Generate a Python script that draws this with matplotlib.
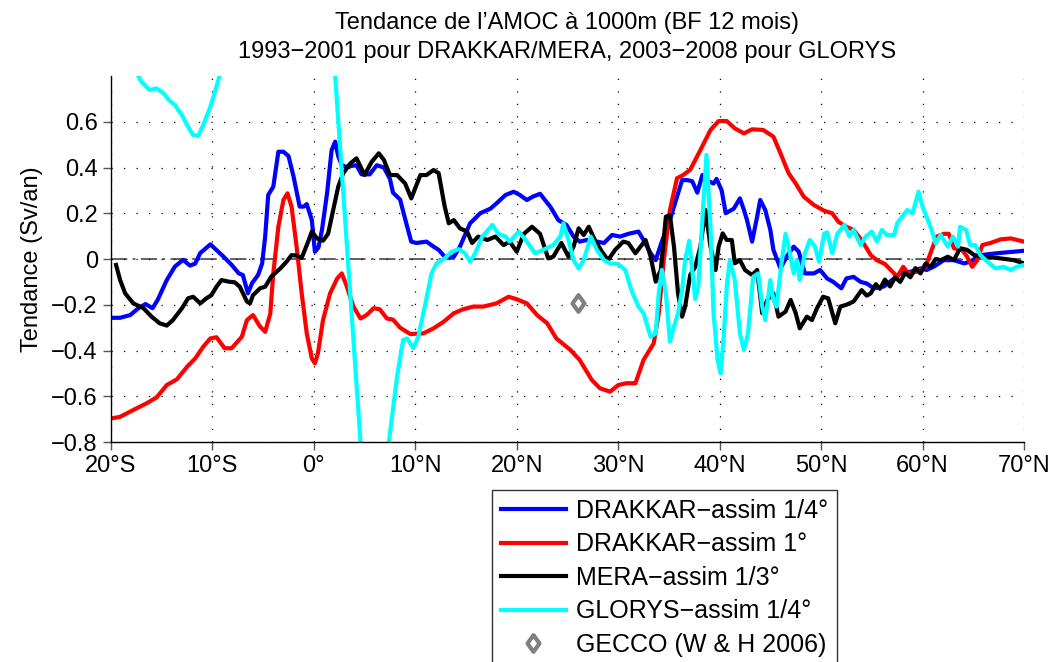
import numpy as np
import matplotlib
matplotlib.use("Agg")
import matplotlib.pyplot as plt
from matplotlib.path import Path

# ---------------------------------------------------------
# 1. Data (latitude in deg, trend in Sv/yr)
# ---------------------------------------------------------
lat_drakkar025 = [-20, -19.1, -18.1, -17.3, -16.6, -15.9, -15.4, -14.5, -13.7, -12.9, -12.2, -11.7,
                  -11.2, -10.2, -9.6, -8.9, -8.1, -7.4, -7.0, -6.5, -6.1, -5.5, -5.1, -4.8, -4.5,
                  -4.0, -3.5, -3.0, -2.5, -2.0, -1.4, -1.0, -0.7, -0.2, 0.1, 0.45, 0.8, 1.3, 1.75,
                  2.1, 2.4, 2.75, 3.2, 4.2, 4.7, 5.5, 6.2, 6.9, 7.5, 7.8, 8.5, 9.2, 9.6, 10.1, 11.1,
                  11.8, 12.3, 12.9, 13.8, 14.4, 15.4, 16.4, 17.4, 18.0, 18.9, 19.7, 20.3, 21.0, 21.6,
                  22.3, 23.3, 24.1, 24.9, 25.6, 26.2, 26.9, 27.9, 28.6, 29.4, 30.2, 31.0, 32.0, 32.5,
                  33.2, 33.7, 34.3, 35.0, 35.5, 35.9, 36.3, 36.8, 37.3, 37.8, 38.3, 38.7, 39.4, 39.7,
                  40.2, 40.6, 41.4, 42.0, 42.4, 42.7, 43.2, 43.7, 44.0, 44.5, 45.0, 45.3, 46.0, 46.6,
                  47.3, 47.8, 48.4, 49.3, 49.9, 50.6, 51.2, 52.0, 52.5, 53.2, 53.9, 54.5, 55.2, 56.2,
                  57.2, 57.8, 58.8, 59.8, 60.4, 61.1, 62.1, 63.1, 64.1, 64.7, 65.7, 67.3, 69.0, 70]
tend_drakkar025 = [-0.257, -0.257, -0.245, -0.215, -0.197, -0.215, -0.179, -0.092, -0.033, -0.004,
                   -0.029, -0.02, 0.026, 0.064, 0.039, 0.01, -0.026, -0.063, -0.07, -0.15, -0.106,
                   -0.07, -0.02, 0.098, 0.28, 0.316, 0.469, 0.469, 0.45, 0.36, 0.229, 0.229, 0.24,
                   0.17, 0.032, 0.05, 0.127, 0.287, 0.476, 0.513, 0.45, 0.41, 0.403, 0.41, 0.37, 0.37,
                   0.41, 0.40, 0.35, 0.29, 0.26, 0.141, 0.076, 0.07, 0.076, 0.054, 0.04, 0.01, 0.01,
                   0.054, 0.156, 0.2, 0.22, 0.243, 0.28, 0.294, 0.28, 0.258, 0.273, 0.285, 0.229, 0.17,
                   0.149, 0.098, 0.076, 0.083, 0.076, 0.07, 0.105, 0.098, 0.11, 0.12, 0.083, 0.025,
                   -0.005, 0.076, 0.156, 0.229, 0.287, 0.345, 0.345, 0.34, 0.29, 0.367, 0.345, 0.33,
                   0.35, 0.30, 0.2, 0.22, 0.265, 0.214, 0.17, 0.076, 0.185, 0.258, 0.214, 0.127, 0.04,
                   -0.041, 0.01, 0.054, 0.032, -0.063, -0.063, -0.048, -0.085, -0.1, -0.128, -0.085,
                   -0.078, -0.1, -0.107, -0.128, -0.12, -0.085, -0.063, -0.056, -0.041, -0.048, -0.034,
                   -0.005, -0.005, -0.019, -0.012, 0.017, 0.025, 0.032, 0.036]

lat_drakkar1 = [-20, -19.1, -17.8, -16.5, -15.5, -14.5, -13.5, -12.5, -11.7, -10.9, -10.2, -9.6, -8.8,
                -8.1, -7.1, -6.6, -6.0, -5.3, -4.8, -4.3, -4.0, -3.5, -3.0, -2.6, -2.2, -1.7, -1.2,
                -0.7, -0.2, 0.1, 0.4, 0.9, 1.6, 2.3, 2.75, 3.2, 3.9, 4.6, 5.2, 5.9, 6.5, 7.2, 7.8, 8.5,
                9.5, 10.8, 11.8, 12.8, 13.8, 14.7, 15.7, 16.7, 18.0, 19.2, 20.0, 21.0, 22.0, 23.0,
                23.9, 25.3, 26.2, 27.4, 28.2, 29.2, 30.0, 30.8, 31.7, 32.5, 33.5, 34.0, 34.5, 35.1,
                35.8, 36.4, 37.1, 38.1, 39.1, 39.9, 40.7, 41.5, 42.4, 43.2, 44.3, 45.3, 46.0, 46.8,
                47.5, 48.3, 49.3, 50.3, 51.1, 51.7, 52.5, 53.2, 54.0, 54.9, 55.5, 56.3, 57.2, 57.5,
                58.1, 58.6, 59.4, 60.3, 60.9, 61.4, 62.1, 62.6, 63.1, 63.9, 64.4, 64.9, 65.4, 65.9,
                66.7, 67.7, 68.7, 70]
tend_drakkar1 = [-0.697, -0.69, -0.66, -0.631, -0.605, -0.551, -0.526, -0.471, -0.435, -0.383, -0.347,
                 -0.342, -0.39, -0.39, -0.34, -0.267, -0.245, -0.296, -0.318, -0.24, -0.063, 0.141,
                 0.258, 0.287, 0.229, 0.054, -0.15, -0.325, -0.435, -0.456, -0.413, -0.267, -0.15,
                 -0.085, -0.063, -0.114, -0.208, -0.26, -0.245, -0.215, -0.22, -0.26, -0.265, -0.30,
                 -0.328, -0.325, -0.303, -0.274, -0.237, -0.22, -0.208, -0.208, -0.194, -0.165,
                 -0.176, -0.194, -0.245, -0.281, -0.347, -0.398, -0.441, -0.529, -0.565, -0.58,
                 -0.551, -0.543, -0.543, -0.441, -0.369, -0.237, -0.004, 0.214, 0.353, 0.367, 0.39,
                 0.476, 0.564, 0.603, 0.603, 0.571, 0.549, 0.567, 0.564, 0.535, 0.462, 0.375, 0.33,
                 0.272, 0.236, 0.211, 0.2, 0.163, 0.141, 0.127, 0.083, 0.017, -0.005, -0.022, -0.063,
                 -0.078, -0.034, -0.063, -0.056, -0.034, 0.039, 0.098, 0.11, 0.11, 0.047, 0.04, 0.01,
                 -0.034, -0.005, 0.061, 0.07, 0.086, 0.09, 0.076]

lat_mera = [-19.5, -19.1, -18.6, -17.8, -16.8, -16.0, -15.2, -14.5, -13.9, -13.0, -12.4, -11.9, -11.2,
            -10.6, -10.1, -9.6, -9.1, -8.4, -7.8, -7.3, -6.6, -6.3, -6.0, -5.3, -4.8, -4.2, -3.3,
            -2.7, -2.2, -1.7, -1.2, -0.5, -0.2, 0.3, 0.9, 1.4, 1.9, 2.4, 2.9, 3.6, 4.2, 5.0, 5.7, 6.4,
            6.9, 7.5, 8.2, 9.0, 9.6, 10.5, 11.1, 11.8, 12.3, 12.9, 13.3, 13.8, 14.4, 15.1, 15.6, 16.2,
            17.1, 17.9, 18.7, 19.3, 20.0, 20.7, 21.5, 22.3, 23.1, 23.6, 24.4, 25.1, 25.6, 26.1, 26.6,
            27.1, 27.7, 28.4, 29.0, 29.7, 30.5, 31.0, 31.7, 32.2, 32.7, 33.2, 33.7, 34.2, 34.7, 35.1,
            35.5, 35.9, 36.3, 36.6, 37.1, 37.6, 38.1, 38.6, 39.1, 39.6, 39.9, 40.3, 40.7, 41.2, 41.5,
            42.0, 42.5, 43.2, 43.7, 44.2, 44.7, 45.3, 45.8, 46.5, 47.0, 47.5, 47.9, 48.6, 49.1, 49.6,
            50.2, 50.7, 51.4, 51.9, 52.5, 53.2, 54.0, 54.5, 54.9, 55.4, 55.8, 56.3, 56.8, 57.3, 57.8,
            58.3, 58.8, 59.3, 59.8, 60.3, 60.8, 61.3, 61.8, 62.5, 63.1, 63.7, 64.4, 65.1, 66.1, 67.3,
            69.0, 70]
tend_mera = [-0.026, -0.092, -0.15, -0.194, -0.215, -0.252, -0.281, -0.291, -0.267, -0.215, -0.172,
             -0.165, -0.194, -0.172, -0.158, -0.121, -0.092, -0.099, -0.102, -0.121, -0.186, -0.194,
             -0.158, -0.128, -0.121, -0.077, -0.041, -0.012, 0.017, 0.015, 0.005, 0.083, 0.12, 0.09,
             0.08, 0.11, 0.214, 0.316, 0.375, 0.418, 0.44, 0.367, 0.425, 0.462, 0.433, 0.367, 0.367,
             0.33, 0.265, 0.367, 0.367, 0.389, 0.375, 0.229, 0.156, 0.17, 0.134, 0.12, 0.07, 0.098,
             0.083, 0.098, 0.061, 0.076, 0.032, 0.11, 0.141, 0.11, 0.003, 0.01, 0.07, 0.01, 0.054,
             0.134, 0.105, 0.141, 0.083, 0.032, -0.005, 0.04, 0.076, 0.07, 0.025, 0.054, 0.083, 0.01,
             -0.099, -0.048, 0.185, 0.192, 0.054, -0.15, -0.252, -0.208, -0.07, -0.034, 0.054, 0.214,
             0.054, -0.048, 0.054, 0.112, 0.083, 0.083, -0.019, -0.005, -0.048, -0.07, -0.048,
             -0.237, -0.179, -0.15, -0.252, -0.23, -0.179, -0.237, -0.303, -0.252, -0.267, -0.215,
             -0.165, -0.172, -0.281, -0.208, -0.2, -0.186, -0.136, -0.16, -0.15, -0.11, -0.13, -0.09,
             -0.12, -0.08, -0.1, -0.06, -0.08, -0.04, -0.063, -0.02, -0.034, 0.0, -0.005, 0.01,
             -0.005, 0.047, 0.04, 0.017, 0.01, 0.005, -0.005, -0.019]

lat_glorys = [-20, -18.5, -17.3, -17.0, -16.2, -15.5, -14.8, -14.3, -13.7, -13.0, -12.4, -11.9, -11.4,
              -10.9, -10.2, -9.7, -9.3, -8.0, -5.0, -2.0, 0.5, 1.5, 2.1, 4.6, 5.5, 6.5, 7.4, 8.2, 8.8,
              9.2, 9.8, 10.3, 11.0, 11.6, 12.1, 12.9, 13.6, 14.3, 14.9, 15.4, 15.9, 16.6, 17.6, 18.2,
              18.9, 19.3, 20.2, 21.0, 21.8, 22.6, 23.6, 24.3, 24.6, 25.1, 25.6, 26.1, 26.6, 27.3, 27.9,
              28.6, 29.2, 30.0, 30.7, 31.3, 32.0, 32.5, 33.2, 33.7, 34.0, 34.3, 34.7, 35.1, 35.5, 35.9,
              36.3, 36.6, 37.0, 37.3, 37.6, 37.9, 38.2, 38.7, 39.1, 39.4, 39.8, 40.1, 40.4, 40.7, 41.0,
              41.5, 42.0, 42.4, 42.8, 43.3, 43.8, 44.2, 44.5, 45.0, 45.3, 45.6, 46.1, 46.5, 46.8, 47.3,
              47.6, 47.9, 48.4, 48.9, 49.4, 49.8, 50.3, 50.6, 51.1, 51.6, 52.3, 52.8, 53.2, 53.9, 54.4,
              55.0, 55.5, 56.0, 56.5, 57.2, 57.5, 58.0, 58.5, 59.0, 59.3, 59.6, 60.0, 60.4, 60.9, 61.3,
              61.8, 62.5, 63.0, 63.5, 63.7, 64.3, 64.7, 65.2, 65.7, 66.4, 67.2, 68.0, 68.7, 69.3, 70]
tend_glorys = [1.4, 1.0, 0.80, 0.775, 0.739, 0.746, 0.724, 0.695, 0.673, 0.629, 0.578, 0.542, 0.538,
               0.586, 0.666, 0.739, 0.80, 1.1, 1.6, 1.8, 1.6, 1.2, 0.80, -0.80, -1.2, -1.2, -0.80,
               -0.514, -0.354, -0.347, -0.39, -0.34, -0.194, -0.063, -0.019, 0.003, 0.032, 0.043,
               0.025, -0.012, 0.025, 0.098, 0.149, 0.11, 0.098, 0.076, 0.12, 0.076, 0.025, 0.04, 0.061,
               0.098, 0.156, 0.083, -0.005, -0.041, -0.005, 0.098, 0.04, -0.005, -0.019, -0.022,
               -0.048, -0.136, -0.208, -0.237, -0.34, -0.325, -0.15, -0.048, -0.15, -0.361, -0.296,
               -0.237, -0.136, -0.005, 0.08, -0.05, -0.175, -0.12, 0.1, 0.455, 0.141, -0.237, -0.441,
               -0.5, -0.34, -0.121, -0.005, -0.092, -0.325, -0.398, -0.325, -0.078, -0.063, -0.208,
               -0.267, -0.092, -0.179, -0.208, -0.019, 0.11, 0.054, -0.063, -0.005, -0.092, 0.025,
               0.083, 0.054, -0.012, 0.11, 0.117, 0.025, 0.11, 0.149, 0.098, 0.127, 0.061, 0.098, 0.12,
               0.076, 0.127, 0.105, 0.105, 0.156, 0.185, 0.214, 0.2, 0.243, 0.294, 0.229, 0.185, 0.127,
               0.068, 0.105, 0.054, 0.098, 0.054, 0.141, 0.127, 0.061, 0.061, 0.017, -0.012, -0.041,
               -0.034, -0.048, -0.034, -0.026]

gecco_lat = [26.0]
gecco_tend = [-0.194]

series_labels = ['DRAKKAR\u2212assim 1/4°', 'DRAKKAR\u2212assim 1°', 'MERA\u2212assim 1/3°',
                 'GLORYS\u2212assim 1/4°', 'GECCO (W & H 2006)']
xtick_vals = [-20, -10, 0, 10, 20, 30, 40, 50, 60, 70]
xtick_labels = ['20°S', '10°S', '0°', '10°N', '20°N', '30°N', '40°N', '50°N', '60°N', '70°N']
ytick_vals = [-0.8, -0.6, -0.4, -0.2, 0, 0.2, 0.4, 0.6]

# ---------------------------------------------------------
# 2. Figure
# ---------------------------------------------------------
plt.rcParams['font.family'] = ['Liberation Sans', 'DejaVu Sans']
fs = 17

fig = plt.figure(figsize=(10.59, 6.62), dpi=100)
ax = fig.add_axes([0.1048, 0.3323, 0.8621, 0.5529])

# diamond marker a bit wider than 'd'
diamond = Path([(0, 1), (0.72, 0), (0, -1), (-0.72, 0), (0, 1)],
               [Path.MOVETO, Path.LINETO, Path.LINETO, Path.LINETO, Path.CLOSEPOLY])

lw = 3.0
ax.plot(lat_drakkar025, tend_drakkar025, color='#0000ff', lw=lw, label=series_labels[0])
ax.plot(lat_drakkar1, tend_drakkar1, color='#ff0000', lw=lw, label=series_labels[1])
ax.plot(lat_mera, tend_mera, color='black', lw=lw, label=series_labels[2])
ax.plot(lat_glorys, tend_glorys, color='#00ffff', lw=lw, label=series_labels[3])
ax.plot(gecco_lat, gecco_tend, linestyle='none', marker=diamond, ms=12, mfc='white',
        mec='#808080', mew=3, label=series_labels[4])

# zero reference line
ax.axhline(0, color='#555555', lw=1.3, dashes=(9, 3, 1.5, 3), zorder=1)

ax.set_xlim(-20, 70)
ax.set_ylim(-0.8, 0.8)
ax.set_xticks(xtick_vals)
ax.set_xticklabels(xtick_labels)
ax.set_yticks(ytick_vals)
ax.set_yticklabels(['0' if v == 0 else f'{v:.1f}'.replace('-', '\u2212') for v in ytick_vals])
ax.tick_params(labelsize=fs, direction='out', length=6, width=1, color='#555555')
ax.grid(True, color='black', linestyle=(0, (1, 9)), linewidth=0.9)

for side in ['top', 'right']:
    ax.spines[side].set_visible(False)
for side in ['left', 'bottom']:
    ax.spines[side].set_linewidth(1.0)

ax.set_ylabel('Tendance (Sv/an)', fontsize=fs, labelpad=6)
ax.set_title('Tendance de l\u2019AMOC à 1000m (BF 12 mois)\n'
             '1993\u22122001 pour DRAKKAR/MERA, 2003\u22122008 pour GLORYS',
             fontsize=fs, pad=13, linespacing=1.4)

leg = ax.legend(loc='upper left', bbox_to_anchor=(492 / 1059, 1 - 490 / 662),
                bbox_transform=fig.transFigure, fontsize=18, frameon=True, fancybox=False,
                borderaxespad=0, handlelength=2.6, handletextpad=0.4, labelspacing=0.38,
                borderpad=0.35, numpoints=1)
leg.get_frame().set_edgecolor('black')
leg.get_frame().set_linewidth(1.0)

fig.savefig('out.png', dpi=100)
